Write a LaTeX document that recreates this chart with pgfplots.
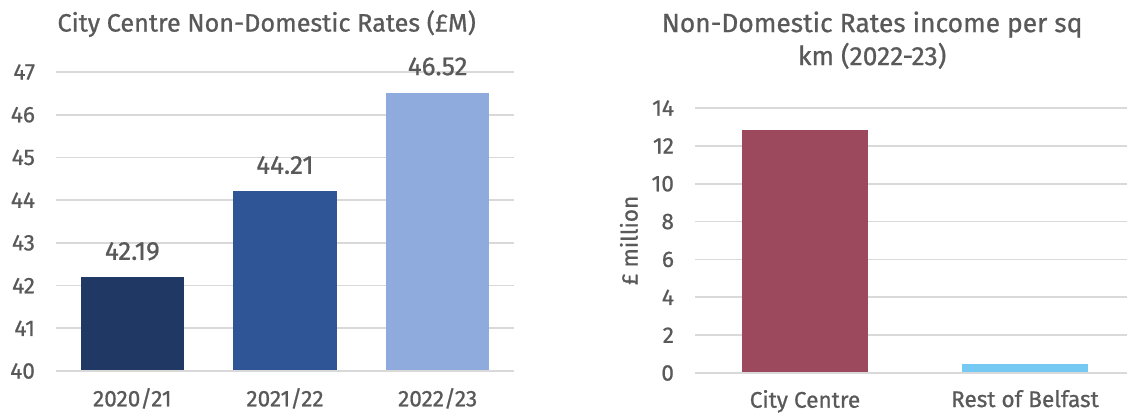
\documentclass[border=0pt]{standalone}
\usepackage{pgfplots}
\pgfplotsset{compat=1.18}
\usepackage{fontspec}
\setmainfont{Fira Sans}[UprightFeatures={FakeBold=0.8}]
\definecolor{txt}{HTML}{595959}
\definecolor{grid}{HTML}{D9D9D9}
\definecolor{c1}{HTML}{203864}
\definecolor{c2}{HTML}{2F5597}
\definecolor{c3}{HTML}{8FAADC}
\definecolor{c4}{HTML}{9C495D}
\definecolor{c5}{HTML}{75C9F2}
\begin{document}
\begin{tikzpicture}
\useasboundingbox (0,0) rectangle (563.5pt,207pt);
\pgfplotsset{
  base/.style={
    scale only axis,
    axis line style={draw=none},
    axis x line*=bottom,
    axis y line*=left,
    major tick length=0pt,
    ymajorgrids,
    grid style={draw=grid, line width=0.8pt},
    tick label style={text=txt, font=\fontsize{11.3}{13}\selectfont},
    /pgf/number format/assume math mode=true,
    clip=false,
    title style={text=txt, align=center},
  }
}
\begin{axis}[base,
  at={(28pt,21.5pt)}, anchor=south west,
  width=229pt, height=149.5pt,
  xmin=-0.5, xmax=2.5,
  ymin=40, ymax=47, ytick={40,41,...,47},
  xtick={0,1,2},
  xticklabels={2020/21,2021/22,2022/23},
  xticklabel style={yshift=-5pt},
  yticklabel style={xshift=-7pt},
  bar width=51.5pt,
  title={City Centre Non-Domestic Rates (£M)},
  title style={at={(0.46,1)}, yshift=8pt, font=\fontsize{12.6}{14}\selectfont},
  nodes near coords,
  every node near coord/.append style={text=txt, font=\fontsize{13}{15}\selectfont, yshift=5pt, /pgf/number format/.cd, fixed, fixed zerofill, precision=2},
]
\addplot[ybar, fill=c1, draw=none] coordinates {(0,42.19)};
\addplot[ybar, fill=c2, draw=none] coordinates {(1,44.21)};
\addplot[ybar, fill=c3, draw=none] coordinates {(2,46.52)};
\draw[grid, line width=0.8pt] (axis cs:-0.5,40) -- (axis cs:2.5,40);
\end{axis}
\begin{axis}[base,
  at={(347.5pt,20.5pt)}, anchor=south west,
  width=216pt, height=132.5pt,
  xmin=-0.5, xmax=1.464,
  ymin=0, ymax=14, ytick={0,2,...,14},
  xtick={0,1},
  xticklabels={City Centre,Rest of Belfast},
  xticklabel style={yshift=-5pt},
  yticklabel style={xshift=-7pt},
  bar width=63pt,
  ylabel={£ million},
  ylabel style={text=txt, font=\fontsize{11.3}{13}\selectfont},
  title={Non-Domestic Rates income per sq\\km (2022-23)},
  title style={at={(0.41,1)}, yshift=10pt, font=\fontsize{13.2}{16.5}\selectfont},
]
\addplot[ybar, fill=c4, draw=none] coordinates {(0,12.84)};
\addplot[ybar, fill=c5, draw=none] coordinates {(1,0.48)};
\draw[grid, line width=0.8pt] (axis cs:-0.5,0) -- (axis cs:1.464,0);
\end{axis}
\end{tikzpicture}
\end{document}
